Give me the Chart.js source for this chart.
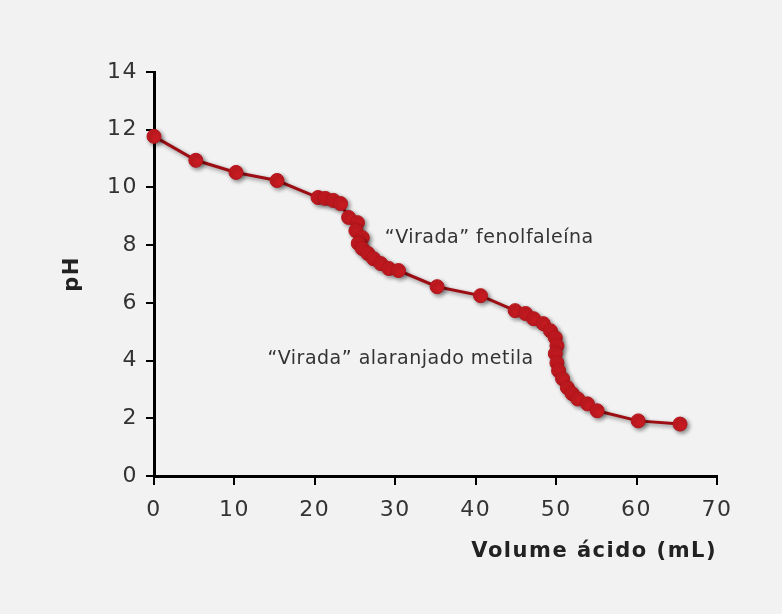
<!DOCTYPE html>
<html>
<head>
<meta charset="utf-8">
<script src="https://cdn.jsdelivr.net/npm/chart.js@4.4.1/dist/chart.umd.min.js"></script>
<style>
  html, body { margin: 0; padding: 0; background: #f2f2f2; }
  #wrap { width: 782px; height: 614px; }
</style>
</head>
<body>
<div id="wrap"><canvas id="titulacao" width="782" height="614"></canvas></div>
<script>
var volume = [0, 5.2, 10.2, 15.3, 20.4, 21.3, 22.3, 23.2, 24.2, 25.3, 25.1, 25.9, 25.4, 25.9,
    26.6, 27.3, 28.2, 29.2, 30.4, 35.2, 40.6, 44.9, 46.2, 47.2, 48.4, 49.3, 49.9, 50.1,
    49.9, 50.1, 50.3, 50.8, 51.4, 52.0, 52.7, 53.9, 55.1, 60.2, 65.4];
var ph = [11.77, 10.94, 10.52, 10.24, 9.65, 9.62, 9.55, 9.44, 8.96, 8.78, 8.5, 8.26, 8.06, 7.88,
    7.71, 7.53, 7.36, 7.19, 7.12, 6.56, 6.25, 5.73, 5.63, 5.45, 5.28, 5.03, 4.79, 4.51,
    4.24, 3.92, 3.65, 3.37, 3.06, 2.85, 2.67, 2.5, 2.26, 1.91, 1.8];

var xTicks = [0, 10, 20, 30, 40, 50, 60, 70];
var yTicks = [0, 2, 4, 6, 8, 10, 12, 14];

// notes placed in data units (left edge, vertical middle)
var notes = [
    { text: '\u201CVirada\u201D fenolfaleína', x: 28.7, y: 8.25 },
    { text: '\u201CVirada\u201D alaranjado metila', x: 14.1, y: 4.05 }
];

var pontos = volume.map(function (v, i) {
    return { x: v, y: ph[i] };
});

var fonte = "'DejaVu Sans', Verdana, sans-serif";

// the original lettering is wide, so space the letters out a little
var espaco = {
    id: 'espaco',
    beforeLayout: function (chart) { chart.ctx.letterSpacing = '1.5px'; },
    beforeDraw: function (chart) { chart.ctx.letterSpacing = '1.5px'; }
};

// drop shadow under the line and dots
var sombra = {
    id: 'sombra',
    beforeDatasetsDraw: function (chart) {
        var ctx = chart.ctx;
        ctx.save();
        ctx.shadowColor = 'rgba(0,0,0,0.45)';
        ctx.shadowBlur = 4;
        ctx.shadowOffsetX = 2;
        ctx.shadowOffsetY = 2;
    },
    afterDatasetsDraw: function (chart) {
        chart.ctx.restore();
    }
};

var notas = {
    id: 'notas',
    afterDraw: function (chart) {
        var ctx = chart.ctx;
        var sx = chart.scales.x, sy = chart.scales.y;
        ctx.save();
        ctx.font = '19px ' + fonte;
        ctx.letterSpacing = '0.5px';
        ctx.fillStyle = '#333';
        ctx.textAlign = 'left';
        ctx.textBaseline = 'middle';
        notes.forEach(function (n) {
            ctx.fillText(n.text, sx.getPixelForValue(n.x), sy.getPixelForValue(n.y));
        });
        ctx.restore();
    }
};

new Chart(document.getElementById('titulacao').getContext('2d'), {
    type: 'scatter',
    data: {
        datasets: [{
            data: pontos,
            showLine: true,
            borderColor: '#9c0e13',
            borderWidth: 3,
            pointBackgroundColor: '#c71b21',
            pointBorderColor: '#b3141a',
            pointBorderWidth: 1,
            pointRadius: 7,
            clip: false
        }]
    },
    options: {
        responsive: false,
        animation: false,
        layout: { padding: { left: 60, top: 72, right: 65, bottom: 0 } },
        plugins: {
            legend: { display: false },
            tooltip: { enabled: false }
        },
        scales: {
            x: {
                type: 'linear',
                min: 0,
                max: 70,
                afterFit: function (s) { s.height = 138; },
                afterBuildTicks: function (s) {
                    s.ticks = xTicks.map(function (v) { return { value: v }; });
                },
                border: { color: '#000', width: 3 },
                grid: { drawOnChartArea: false, tickLength: 9, color: '#000', lineWidth: 2 },
                ticks: { color: '#333', padding: 12, font: { size: 22, family: fonte } },
                title: {
                    display: true,
                    text: 'Volume ácido (mL)',
                    align: 'end',
                    color: '#222',
                    padding: { top: 0, bottom: 50 },
                    font: { size: 21, weight: 'bold', family: fonte }
                }
            },
            y: {
                min: 0,
                max: 14,
                afterFit: function (s) { s.width = 94; },
                afterBuildTicks: function (s) {
                    s.ticks = yTicks.map(function (v) { return { value: v }; });
                },
                border: { color: '#000', width: 3 },
                grid: { drawOnChartArea: false, tickLength: 8, color: '#000', lineWidth: 2 },
                ticks: { color: '#333', padding: 8, font: { size: 22, family: fonte } },
                title: {
                    display: true,
                    text: 'pH',
                    color: '#222',
                    padding: { top: 0, bottom: 0 },
                    font: { size: 21, weight: 'bold', family: fonte }
                }
            }
        }
    },
    plugins: [espaco, sombra, notas]
});
</script>
</body>
</html>
